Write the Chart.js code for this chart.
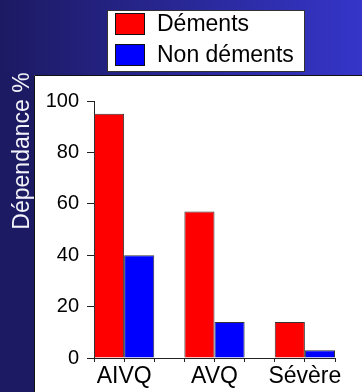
<!DOCTYPE html>
<html lang="fr">
<head>
<meta charset="utf-8">
<title>Dépendance %</title>
<script src="https://cdn.jsdelivr.net/npm/chart.js@4.4.1/dist/chart.umd.min.js"></script>
<style>
  html, body { margin: 0; padding: 0; background: #1c1a62; }
  #wrap { width: 362px; height: 392px; }
  canvas { display: block; }
</style>
</head>
<body>
<div id="wrap"><canvas id="chart" width="362" height="392"></canvas></div>
<script>
// Share of dependent patients, by kind of daily activity
const categories = ['AIVQ', 'AVQ', 'Sévère'];
const dements = [95, 57, 14];
const nonDements = [40, 14, 3];
const seriesNames = ['Déments', 'Non déments'];
const yTicks = [0, 20, 40, 60, 80, 100];
const yTitle = 'Dépendance %';

const FONT = '"Liberation Sans", Arial, sans-serif';

// Each category occupies three slots on the x scale: two bars and a gap.
const SLOTS_PER_GROUP = 3;
const slotOf = i => 1 + SLOTS_PER_GROUP * i;
const toPoints = vals => vals.map((v, i) => ({ x: slotOf(i), y: v }));

// Slide background: blue gradient with a white panel holding the plot
const backdrop = {
  id: 'backdrop',
  beforeDraw(chart) {
    const { ctx, width, height } = chart;
    ctx.save();
    const g = ctx.createLinearGradient(0, 0, width, 0);
    g.addColorStop(0, '#1c1a62');
    g.addColorStop(1, '#3535c9');
    ctx.fillStyle = g;
    ctx.fillRect(0, 0, width, height);
    ctx.fillStyle = '#1c1a62';
    ctx.fillRect(0, 75, 34, height - 75);
    ctx.fillStyle = '#ffffff';
    ctx.fillRect(34, 75, width - 34, height - 75);
    ctx.strokeStyle = '#111111';
    ctx.lineWidth = 1;
    ctx.beginPath();
    ctx.moveTo(34.5, height);
    ctx.lineTo(34.5, 75.5);
    ctx.lineTo(width, 75.5);
    ctx.stroke();
    ctx.restore();
  }
};

// Boxed legend and rotated axis title
const annotations = {
  id: 'annotations',
  afterDraw(chart) {
    const { ctx } = chart;
    ctx.save();
    // legend frame
    ctx.fillStyle = '#ffffff';
    ctx.fillRect(107, 10, 197, 61);
    ctx.strokeStyle = '#333333';
    ctx.lineWidth = 1;
    ctx.strokeRect(107.5, 10.5, 197, 61);
    ctx.font = '23px ' + FONT;
    ctx.textBaseline = 'middle';
    ctx.textAlign = 'left';
    chart.data.datasets.forEach((ds, i) => {
      const top = 13 + i * 31;
      ctx.fillStyle = ds.backgroundColor;
      ctx.fillRect(115, top, 30, 22);
      ctx.strokeStyle = '#111111';
      ctx.strokeRect(115.5, top + 0.5, 29, 21);
      ctx.fillStyle = '#000000';
      ctx.fillText(ds.label, 157, top + 12);
    });
    // y axis title
    ctx.translate(29, 151);
    ctx.rotate(-Math.PI / 2);
    ctx.font = '23px ' + FONT;
    ctx.textAlign = 'center';
    ctx.textBaseline = 'alphabetic';
    ctx.fillStyle = '#f2f2fa';
    ctx.fillText(yTitle, 0, 0);
    ctx.restore();
  }
};

new Chart(document.getElementById('chart'), {
  type: 'bar',
  data: {
    datasets: [
      { label: seriesNames[0], data: toPoints(dements), backgroundColor: '#ff0000', borderColor: '#333333', borderWidth: 1 },
      { label: seriesNames[1], data: toPoints(nonDements), backgroundColor: '#0000ff', borderColor: '#333333', borderWidth: 1 }
    ]
  },
  options: {
    responsive: false,
    animation: false,
    categoryPercentage: 2,
    barPercentage: 1,
    layout: { padding: { top: 101, right: 27, left: 0, bottom: 0 } },
    plugins: { legend: { display: false }, tooltip: { enabled: false }, title: { display: false } },
    scales: {
      x: {
        type: 'linear',
        offset: false,
        min: 0,
        max: slotOf(categories.length - 1) + 1,
        afterFit(scale) { scale.height = 34; },
        grid: { offset: false, drawOnChartArea: false, drawTicks: true, tickLength: 4, color: '#222222' },
        border: { display: true, color: '#222222', width: 1 },
        ticks: {
          stepSize: 1,
          autoSkip: false,
          maxRotation: 0,
          minRotation: 0,
          padding: 1,
          color: '#000000',
          font: { family: FONT, size: 23 },
          callback(v) {
            const i = (v - 1) / SLOTS_PER_GROUP;
            return Number.isInteger(i) && categories[i] !== undefined ? categories[i] : '';
          }
        }
      },
      y: {
        min: yTicks[0],
        max: yTicks[yTicks.length - 1],
        afterFit(scale) { scale.width = 94; },
        afterBuildTicks(scale) { scale.ticks = yTicks.map(v => ({ value: v })); },
        grid: { drawOnChartArea: false, drawTicks: true, tickLength: 7, color: '#222222' },
        border: { display: true, color: '#222222', width: 1 },
        ticks: {
          padding: 8,
          color: '#000000',
          font: { family: FONT, size: 20 }
        }
      }
    }
  },
  plugins: [backdrop, annotations]
});
</script>
</body>
</html>
